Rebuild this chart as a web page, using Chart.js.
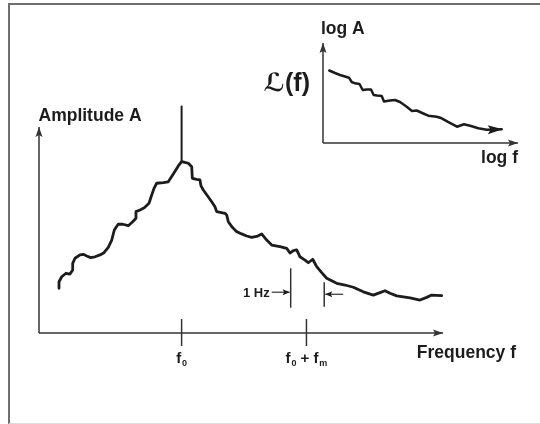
<!DOCTYPE html>
<html>
<head>
<meta charset="utf-8">
<script src="https://cdn.jsdelivr.net/npm/chart.js@4.4.1/dist/chart.umd.min.js"></script>
<style>
  html, body { margin: 0; padding: 0; background: #fff; }
  #wrap { position: relative; width: 540px; height: 424px; overflow: hidden; }
  #frame {
    position: absolute; left: 8px; top: 3px; right: -6px; bottom: 0;
    border-left: 2px solid #6f6f6f; border-top: 2px solid #6f6f6f; border-bottom: 1px solid #ddd;
  }
  canvas { position: absolute; left: 0; top: 0; }
</style>
</head>
<body>
<div id="wrap">
  <div id="frame"></div>
  <canvas id="main" width="540" height="424"></canvas>
  <canvas id="inset" width="540" height="424"></canvas>
</div>
<script>
// ---------------------------------------------------------
// Dados (unidades arbitrárias 0..100)
// ---------------------------------------------------------

// espectro principal: frequência x amplitude
const freq = [4.95, 4.95, 5.62, 6.68, 7.67, 8.34, 8.34, 8.91, 10.15, 10.97, 11.81, 12.80, 13.86, 15.10,
  16.09, 17.15, 18.00, 18.64, 19.63, 20.72, 22.10, 23.19, 24.00, 24.00, 25.00, 26.06, 27.23, 27.90,
  28.47, 29.13, 30.77, 32.00, 33.24, 34.48, 35.30, 36.10, 36.96, 37.80, 37.95, 39.03, 39.85, 40.10,
  40.67, 42.75, 43.56, 43.98, 46.04, 46.46, 46.86, 47.85, 48.94, 50.17, 51.41, 52.65, 53.89, 55.12,
  56.36, 57.60, 59.65, 61.31, 62.13, 62.95, 63.79, 64.60, 65.84, 66.66, 67.75, 68.74, 69.98, 71.21,
  73.69, 75.74, 77.80, 80.27, 82.75, 84.41, 85.64, 86.88, 88.54, 91.83, 94.31, 95.97, 97.20, 99.68];
const amp = [21.7, 24.9, 27.3, 29.0, 28.6, 30.6, 33.8, 36.3, 37.9, 38.2, 37.4, 36.6, 37.0, 37.9,
  39.0, 41.6, 45.1, 50.0, 52.9, 52.8, 52.1, 54.0, 55.7, 58.9, 59.7, 60.8, 63.0, 67.0,
  70.2, 72.7, 73.0, 73.4, 77.2, 81.1, 83.2, 82.8, 82.4, 80.7, 75.1, 74.6, 74.3, 71.4,
  69.4, 63.7, 61.3, 58.9, 58.1, 57.3, 54.0, 51.3, 49.2, 48.1, 47.1, 46.4, 46.9, 48.1,
  45.1, 42.7, 41.9, 41.1, 38.8, 40.0, 40.3, 37.0, 35.4, 34.1, 35.8, 32.2, 29.3, 26.6,
  24.1, 23.3, 22.2, 20.0, 18.4, 19.6, 20.5, 19.3, 18.0, 17.1, 16.0, 17.3, 18.4, 18.1];

// portadora (linha espectral em f0)
const carrierFreq = 35.3;
const carrierAmp = [83.2, 109.9];

// marcas do eixo x
const tickFreq = [35.3, 66.2];
const tickLabels = ['f_0', 'f_0 + f_m'];

// barras da largura de 1 Hz
const hzBarFreq = [62.3, 70.6];
const hzBarLow = [12.3, 12.8];
const hzBarHigh = [31.4, 24.6];
const hzArrowAmp = [19.8, 18.8];
const hzLabel = '1 Hz';

// gráfico pequeno: log f x log A
const logF = [3.23, 6.15, 8.72, 11.28, 13.33, 14.72, 16.41, 18.72, 20.36, 22.41, 24.62, 26.0, 27.69,
  30.1, 31.28, 34.36, 36.92, 39.49, 42.92, 45.64, 48.05, 51.44, 54.0, 58.31, 60.87, 63.85, 68.72,
  72.31, 75.9, 79.64, 83.95, 91.64];
const logA = [72.5, 70, 68, 66.5, 65.3, 61, 59.7, 59, 53, 53.5, 53.5, 48, 47.5,
  47, 41.5, 42.5, 43, 41, 36.3, 32, 32.5, 29.5, 27.3, 26.3, 24.7, 21.3, 16.3,
  18.7, 17, 14.7, 13.3, 13.7];

// ---------------------------------------------------------
// Utilidades de desenho
// ---------------------------------------------------------
const INK = '#1c1c1c';
const AXIS = '#333';
const FONT = '"Liberation Sans", Arial, Helvetica, sans-serif';

function arrowHead(ctx, x, y, ang, len, half) {
  ctx.save();
  ctx.translate(x, y);
  ctx.rotate(ang);
  ctx.beginPath();
  ctx.moveTo(0, 0);
  ctx.lineTo(-len, -half);
  ctx.lineTo(-len * 0.8, 0);
  ctx.lineTo(-len, half);
  ctx.closePath();
  ctx.fill();
  ctx.restore();
}

function axisLine(ctx, x1, y1, x2, y2) {
  ctx.beginPath();
  ctx.moveTo(x1, y1);
  ctx.lineTo(x2, y2);
  ctx.stroke();
  arrowHead(ctx, x2, y2, Math.atan2(y2 - y1, x2 - x1), 10, 3.5);
}

// texto com subscritos: "f_0" -> f + 0 subscrito
function subText(ctx, str, cx, baseY, size) {
  const parts = [];
  for (let i = 0; i < str.length; i++) {
    if (str[i] === '_' && i + 1 < str.length) { parts.push([str[i + 1], true]); i++; }
    else parts.push([str[i], false]);
  }
  const fontOf = sub => `bold ${sub ? Math.round(size * 0.6) : size}px ${FONT}`;
  let total = 0;
  parts.forEach(p => { ctx.font = fontOf(p[1]); total += ctx.measureText(p[0]).width + (p[1] ? 0.8 : 0); });
  let x = cx - total / 2;
  ctx.textAlign = 'left';
  ctx.textBaseline = 'alphabetic';
  parts.forEach(p => {
    ctx.font = fontOf(p[1]);
    ctx.fillText(p[0], x + (p[1] ? 0.8 : 0), baseY + (p[1] ? 3 : 0));
    x += ctx.measureText(p[0]).width + (p[1] ? 0.8 : 0);
  });
}

// ---------------------------------------------------------
// Plugin do gráfico principal: eixos, marcas, rótulos
// ---------------------------------------------------------
const mainDecor = {
  id: 'mainDecor',
  afterDatasetsDraw(chart) {
    const { ctx, chartArea: a, scales: { x, y } } = chart;
    ctx.save();
    ctx.strokeStyle = AXIS;
    ctx.fillStyle = AXIS;
    ctx.lineWidth = 1.5;

    axisLine(ctx, a.left, a.bottom, a.left, a.top);
    axisLine(ctx, a.left, a.bottom, a.right, a.bottom);

    // marcas f0 e f0 + fm
    tickFreq.forEach((f, i) => {
      const px = x.getPixelForValue(f);
      ctx.beginPath();
      ctx.moveTo(px, a.bottom - 14);
      ctx.lineTo(px, a.bottom + 13);
      ctx.stroke();
      ctx.fillStyle = INK;
      subText(ctx, tickLabels[i], px, a.bottom + 30, 15);
    });

    // setas da largura de 1 Hz
    ctx.lineWidth = 1.2;
    const lx = x.getPixelForValue(hzBarFreq[0]);
    const rx = x.getPixelForValue(hzBarFreq[1]);
    const ly = y.getPixelForValue(hzArrowAmp[0]);
    const ry = y.getPixelForValue(hzArrowAmp[1]);
    ctx.beginPath(); ctx.moveTo(lx - 19, ly); ctx.lineTo(lx - 1, ly); ctx.stroke();
    arrowHead(ctx, lx - 1, ly, 0, 7, 3);
    ctx.beginPath(); ctx.moveTo(rx + 19, ry); ctx.lineTo(rx + 1, ry); ctx.stroke();
    arrowHead(ctx, rx + 1, ry, Math.PI, 7, 3);

    ctx.fillStyle = INK;
    ctx.font = `bold 13px ${FONT}`;
    ctx.textAlign = 'right';
    ctx.textBaseline = 'alphabetic';
    ctx.fillText(hzLabel, lx - 21, ly + 4.5);

    // rótulos dos eixos
    ctx.font = `bold 17.5px ${FONT}`;
    ctx.textAlign = 'left';
    ctx.fillText('Amplitude A', a.left - 0.5, a.top - 6);
    ctx.textAlign = 'right';
    ctx.fillText('Frequency f', a.right + 73, a.bottom + 25);
    ctx.restore();
  }
};

// ---------------------------------------------------------
// Plugin do gráfico pequeno (log-log)
// ---------------------------------------------------------
const insetDecor = {
  id: 'insetDecor',
  afterDatasetsDraw(chart) {
    const { ctx, chartArea: a, scales: { x, y } } = chart;
    ctx.save();
    ctx.strokeStyle = AXIS;
    ctx.fillStyle = AXIS;
    ctx.lineWidth = 1.5;
    axisLine(ctx, a.left, a.bottom, a.left, a.top);
    axisLine(ctx, a.left, a.bottom, a.right, a.bottom);

    // ponta de seta no fim da curva
    const n = logF.length;
    const x1 = x.getPixelForValue(logF[n - 2]), y1 = y.getPixelForValue(logA[n - 2]);
    const x2 = x.getPixelForValue(logF[n - 1]), y2 = y.getPixelForValue(logA[n - 1]);
    ctx.fillStyle = INK;
    arrowHead(ctx, x2 + 1, y2, Math.atan2(y2 - y1, x2 - x1), 15, 4.5);

    ctx.font = `bold 17.5px ${FONT}`;
    ctx.textBaseline = 'alphabetic';
    ctx.textAlign = 'left';
    ctx.fillText('log A', a.left - 2, a.top - 9);
    ctx.textAlign = 'right';
    ctx.fillText('log f', a.right, a.bottom + 20);
    // "(f)" em Liberation; o L manuscrito cai para a DejaVu
    ctx.font = `bold 25px "Liberation Sans", "DejaVu Sans", sans-serif`;
    ctx.fillText('\u2112(f)', a.left - 13, a.top + 48);
    ctx.restore();
  }
};

const baseScales = {
  x: { type: 'linear', min: 0, max: 100, display: false },
  y: { type: 'linear', min: 0, max: 100, display: false }
};

function lineSet(points, width) {
  return {
    data: points,
    showLine: true,
    borderColor: INK,
    borderWidth: width,
    borderJoinStyle: 'round',
    borderCapStyle: 'round',
    pointRadius: 0,
    tension: 0,
    clip: false
  };
}

// ---------------------------------------------------------
// Gráfico principal
// ---------------------------------------------------------
const spectrum = freq.map((f, i) => ({ x: f, y: amp[i] }));
const carrier = carrierAmp.map(v => ({ x: carrierFreq, y: v }));
const hzBars = hzBarFreq.map((f, i) => lineSet([{ x: f, y: hzBarLow[i] }, { x: f, y: hzBarHigh[i] }], 1.5));
hzBars.forEach(d => { d.borderColor = AXIS; d.borderCapStyle = 'butt'; });

new Chart(document.getElementById('main'), {
  type: 'scatter',
  data: { datasets: [lineSet(spectrum, 2.8), lineSet(carrier, 2), ...hzBars] },
  options: {
    responsive: false,
    animation: false,
    events: [],
    layout: { padding: { left: 39, right: 97, top: 127, bottom: 91 } },
    plugins: { legend: { display: false }, tooltip: { enabled: false } },
    scales: baseScales
  },
  plugins: [mainDecor]
});

// ---------------------------------------------------------
// Gráfico pequeno
// ---------------------------------------------------------
const noise = logF.map((f, i) => ({ x: f, y: logA[i] }));

new Chart(document.getElementById('inset'), {
  type: 'scatter',
  data: { datasets: [lineSet(noise, 2.5)] },
  options: {
    responsive: false,
    animation: false,
    events: [],
    layout: { padding: { left: 323, right: 22, top: 43, bottom: 281 } },
    plugins: { legend: { display: false }, tooltip: { enabled: false } },
    scales: JSON.parse(JSON.stringify(baseScales))
  },
  plugins: [insetDecor]
});
</script>
</body>
</html>
